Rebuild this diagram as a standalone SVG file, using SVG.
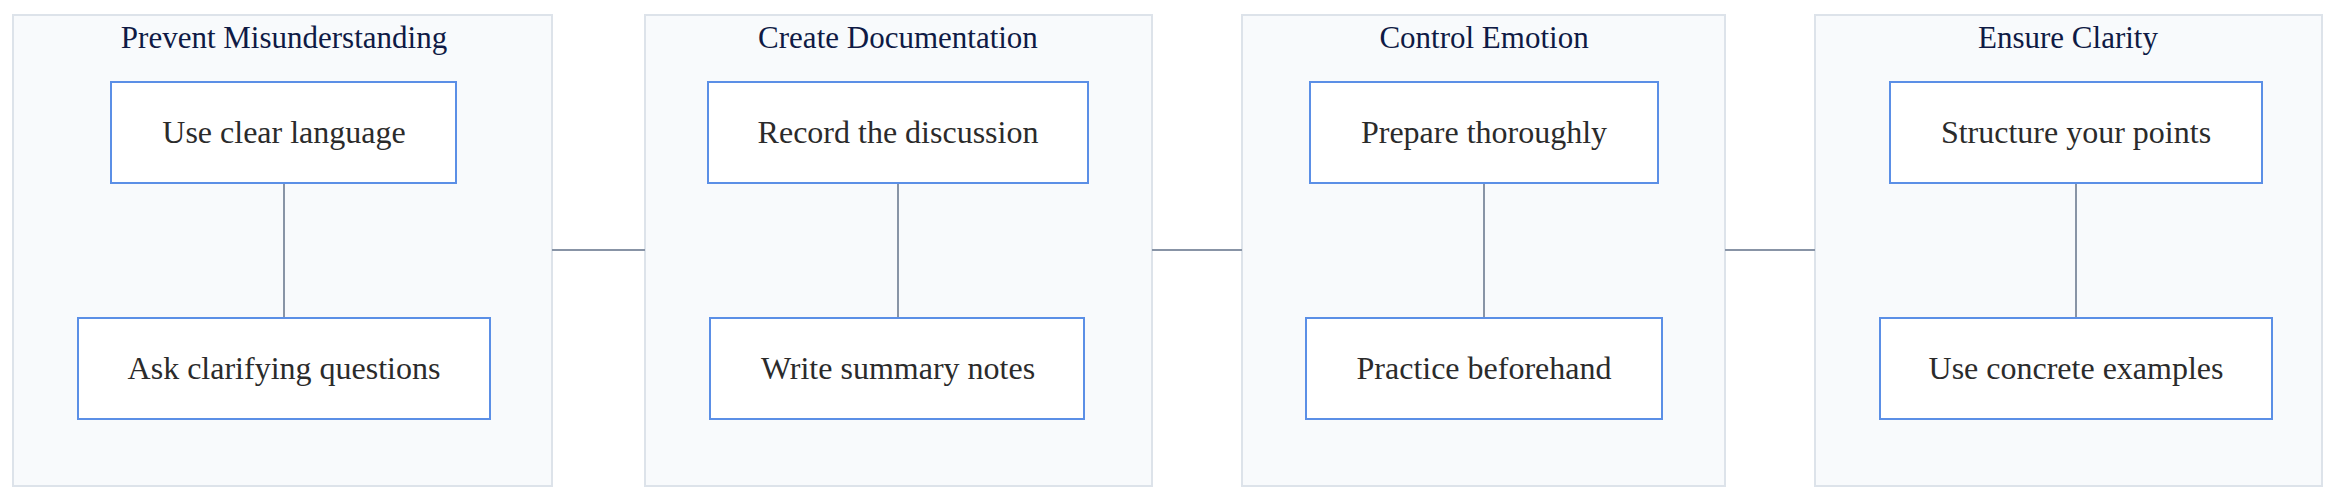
<svg xmlns="http://www.w3.org/2000/svg" width="2352" height="502" viewBox="0 0 2352 502">
<style>
.cl{fill:#f8fafc;stroke:#dde3ea;stroke-width:2}
.nd{fill:#fff;stroke:#5b8fe6;stroke-width:2}
.t{font-family:"Liberation Serif",serif;font-size:31px;text-anchor:middle}
.nt{font-size:32px;fill:#2b2b2b}
.ct{fill:#0f1a45}
.ln{stroke:#8894a6;stroke-width:2;fill:none}
</style>
<rect width="2352" height="502" fill="#fff"/>
<g id="c1"><rect class="cl" x="13" y="15" width="539" height="471"/><text class="t ct" x="284" y="48">Prevent Misunderstanding</text></g>
<g id="c2"><rect class="cl" x="645" y="15" width="507" height="471"/><text class="t ct" x="898" y="48">Create Documentation</text></g>
<g id="c3"><rect class="cl" x="1242" y="15" width="483" height="471"/><text class="t ct" x="1484" y="48">Control Emotion</text></g>
<g id="c4"><rect class="cl" x="1815" y="15" width="507" height="471"/><text class="t ct" x="2068" y="48">Ensure Clarity</text></g>
<g id="connectors">
<line class="ln" x1="552" y1="250" x2="645" y2="250"/>
<line class="ln" x1="1152" y1="250" x2="1242" y2="250"/>
<line class="ln" x1="1725" y1="250" x2="1815" y2="250"/>
<line class="ln" x1="284" y1="183" x2="284" y2="318"/>
<line class="ln" x1="898" y1="183" x2="898" y2="318"/>
<line class="ln" x1="1484" y1="183" x2="1484" y2="318"/>
<line class="ln" x1="2076" y1="183" x2="2076" y2="318"/>
</g>
<g id="n1"><rect class="nd" x="111" y="82" width="345" height="101"/><text class="t nt" x="284" y="143">Use clear language</text></g>
<g id="n2"><rect class="nd" x="78" y="318" width="412" height="101"/><text class="t nt" x="284" y="379">Ask clarifying questions</text></g>
<g id="n3"><rect class="nd" x="708" y="82" width="380" height="101"/><text class="t nt" x="898" y="143">Record the discussion</text></g>
<g id="n4"><rect class="nd" x="710" y="318" width="374" height="101"/><text class="t nt" x="898" y="379">Write summary notes</text></g>
<g id="n5"><rect class="nd" x="1310" y="82" width="348" height="101"/><text class="t nt" x="1484" y="143">Prepare thoroughly</text></g>
<g id="n6"><rect class="nd" x="1306" y="318" width="356" height="101"/><text class="t nt" x="1484" y="379">Practice beforehand</text></g>
<g id="n7"><rect class="nd" x="1890" y="82" width="372" height="101"/><text class="t nt" x="2076" y="143">Structure your points</text></g>
<g id="n8"><rect class="nd" x="1880" y="318" width="392" height="101"/><text class="t nt" x="2076" y="379">Use concrete examples</text></g>
</svg>
